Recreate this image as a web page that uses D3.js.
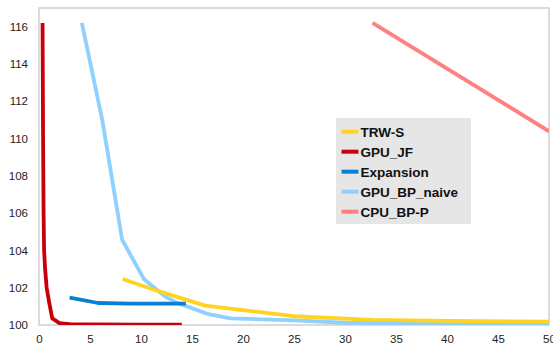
<!DOCTYPE html>
<html><head><meta charset="utf-8">
<script src="https://cdn.jsdelivr.net/npm/d3@7/dist/d3.min.js"></script>
<style>body{margin:0;background:#fff;} svg{display:block;}</style>
</head><body>
<svg id="c" width="553" height="350"></svg>
<script>
const seriesNames = ["TRW-S", "GPU_JF", "Expansion", "GPU_BP_naive", "CPU_BP-P"];
const seriesColors = ["#FFD320", "#C8000A", "#0A80D0", "#8ED0FF", "#FF8080"];
const trws = [[8.2,102.47],[11.8,101.8],[16.3,101.04],[20,100.8],[25,100.47],[32.6,100.28],[40,100.22],[50,100.18]];
const gpuJF = [[0.35,116.2],[0.4,110],[0.45,106],[0.5,104],[0.6,103],[0.75,102],[1.0,101.2],[1.3,100.35],[1.6,100.25],[2.0,100.1],[3,100.05],[5,100.03],[10,100.02],[14,100.02]];
const expansion = [[3.0,101.47],[5.8,101.18],[9,101.15],[14.4,101.15]];
const gpuBPnaive = [[4.2,116.2],[6.2,111.0],[8.15,104.57],[10.3,102.45],[12.4,101.52],[13.5,101.2],[16.5,100.6],[18.8,100.36],[25,100.25],[30,100.12],[40,100.08],[50,100.06]];
const cpuBPP = [[32.7,116.2],[50,110.39]];
const xTicks = [0,5,10,15,20,25,30,35,40,45,50];
const yTicks = [100,102,104,106,108,110,112,114,116];

const seriesData = [trws, gpuJF, expansion, gpuBPnaive, cpuBPP];
const svg = d3.select("#c");
const L = 39, R = 549, T = 8, B = 325;
const x = d3.scaleLinear().domain([0,50]).range([L,R]);
const y = d3.scaleLinear().domain([100,117]).range([B,T]);

svg.append("rect").attr("x",L).attr("y",T).attr("width",R-L).attr("height",B-T)
  .attr("fill","#fff").attr("stroke","#cfcfcf").attr("stroke-width",1.5);

svg.append("defs").append("clipPath").attr("id","clip").append("rect")
  .attr("x",L).attr("y",T).attr("width",R-L).attr("height",B-T);

const yAxis = svg.append("g").attr("transform",`translate(${L},0)`)
  .call(d3.axisLeft(y).tickValues(yTicks).tickSize(0).tickPadding(11).tickFormat(d3.format("d")));
const xAxis = svg.append("g").attr("transform",`translate(0,${B})`)
  .call(d3.axisBottom(x).tickValues(xTicks).tickSize(0).tickPadding(10).tickFormat(d3.format("d")));
[yAxis,xAxis].forEach(a=>{
  a.select(".domain").remove();
  a.selectAll("text").attr("font-family","Liberation Sans, Arial, sans-serif").attr("font-size","11.5px").attr("fill","#222");
});

const line = d3.line().x(d=>x(d[0])).y(d=>y(d[1]));
const g = svg.append("g").attr("clip-path","url(#clip)");
// draw order: CPU_BP-P, GPU_BP_naive, TRW-S, Expansion, GPU_JF
[4,3,0,2,1].forEach(i=>{
  g.append("path").datum(seriesData[i]).attr("d",line)
   .attr("fill","none").attr("stroke",seriesColors[i]).attr("stroke-width",3.8)
   .attr("stroke-linejoin","round");
});

const lg = svg.append("g");
lg.append("rect").attr("x",336).attr("y",118).attr("width",135).attr("height",106).attr("fill","#E6E6E6");
seriesNames.forEach((n,i)=>{
  const yy = 131.7 + i*20;
  lg.append("line").attr("x1",341.5).attr("x2",358.5).attr("y1",yy).attr("y2",yy)
    .attr("stroke",seriesColors[i]).attr("stroke-width",4);
  lg.append("text").attr("x",360.5).attr("y",yy).attr("dy","0.36em")
    .attr("font-family","Liberation Sans, Arial, sans-serif").attr("font-weight","bold")
    .attr("font-size","13.5px").attr("fill","#111").text(n);
});
</script>
</body></html>
